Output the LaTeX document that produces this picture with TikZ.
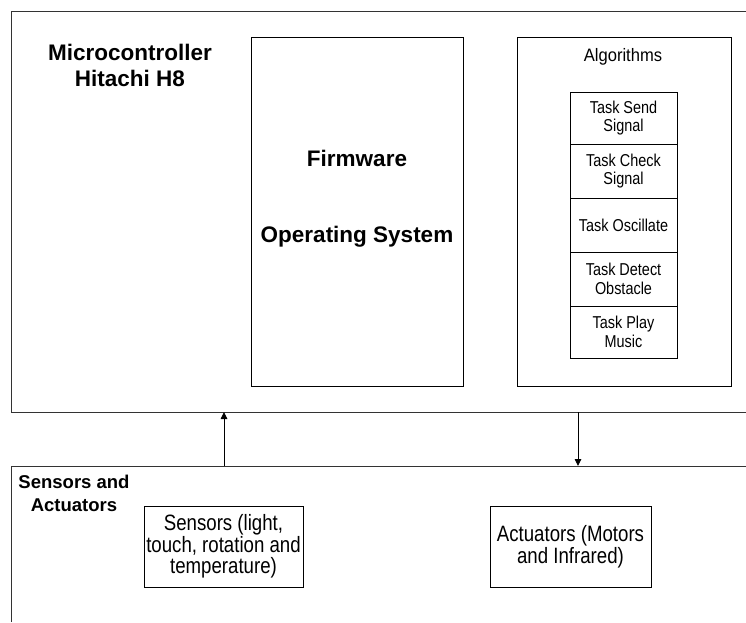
\documentclass[tikz,border=0pt]{standalone}
\usepackage{fontspec}
\setmainfont{Liberation Sans}
\newfontfamily\narrowsans[FakeStretch=0.84]{Liberation Sans}
\newfontfamily\semisans[FakeStretch=0.92]{Liberation Sans}
\usetikzlibrary{arrows.meta}
\tikzset{
  edge/.style={line width=0.9pt, draw=black!80},
  box/.style={draw=black, line width=0.8pt, inner sep=0pt, align=center},
  title/.style={font=\fontsize{22.5}{26}\selectfont\bfseries, align=center, inner sep=0pt},
  subtitle/.style={font=\fontsize{18.5}{23}\selectfont\bfseries, align=center, inner sep=0pt},
  devbox/.style={box, font=\narrowsans\fontsize{22.2}{21.7}\selectfont},
  taskbox/.style={box, font=\narrowsans\fontsize{17.2}{18.5}\selectfont, minimum width=107pt},
  arr/.style={line width=0.9pt, -{Triangle[length=7pt,width=6.5pt]}},
}
\begin{document}
\begin{tikzpicture}[x=1pt,y=-1pt]
\useasboundingbox (0,0) rectangle (746,622);
% outer regions (open on the right / bottom)
\coordinate (mcuNE) at (746,11);
\coordinate (mcuNW) at (11,11);
\coordinate (mcuSW) at (11,412);
\coordinate (mcuSE) at (746,412);
\draw[edge] (mcuNE) -- (mcuNW) -- (mcuSW) -- (mcuSE);
\coordinate (saNE) at (746,466);
\coordinate (saNW) at (11,466);
\coordinate (saSW) at (11,622);
\draw[edge] (saNE) -- (saNW) -- (saSW);
% titles
\node[title] (mcutitle) at (130,65) {Microcontroller\\Hitachi H8};
\node[subtitle] (satitle) at (74,493) {Sensors and\\Actuators};
% firmware box
\node[box, minimum width=212pt, minimum height=349pt] (fw) at (357,211.5) {};
\node[title] (fwt) at (357,158) {Firmware};
\node[title] (ost) at (357,237) {Operating System};
% algorithms box
\node[box, minimum width=214pt, minimum height=349pt] (alg) at (624,211.5) {};
\node[font=\semisans\fontsize{18}{20}\selectfont, inner sep=0pt] (algt) at (623,57) {Algorithms};
% tasks
\node[taskbox, minimum height=52pt] (t1) at (623.5,118) {Task Send\\Signal};
\node[taskbox, minimum height=54pt] (t2) at (623.5,171) {Task Check\\Signal};
\node[taskbox, minimum height=54pt] (t3) at (623.5,225) {Task Oscillate};
\node[taskbox, minimum height=54pt] (t4) at (623.5,279) {Task Detect\\Obstacle};
\node[taskbox, minimum height=52pt] (t5) at (623.5,332) {Task Play\\Music};
% device boxes
\node[devbox, minimum width=159pt, minimum height=81pt] (sens) at (223.5,546.5) {Sensors (light,\\touch, rotation and\\temperature)};
\node[devbox, minimum width=161pt, minimum height=81pt] (act) at (570.5,546.5) {Actuators (Motors\\and Infrared)};
% arrows
\coordinate (upS) at (224,466);
\coordinate (upE) at (224,412);
\coordinate (dnS) at (578,412);
\coordinate (dnE) at (578,466);
\draw[arr] (upS) -- (upE);
\draw[arr] (dnS) -- (dnE);
\end{tikzpicture}
\end{document}
